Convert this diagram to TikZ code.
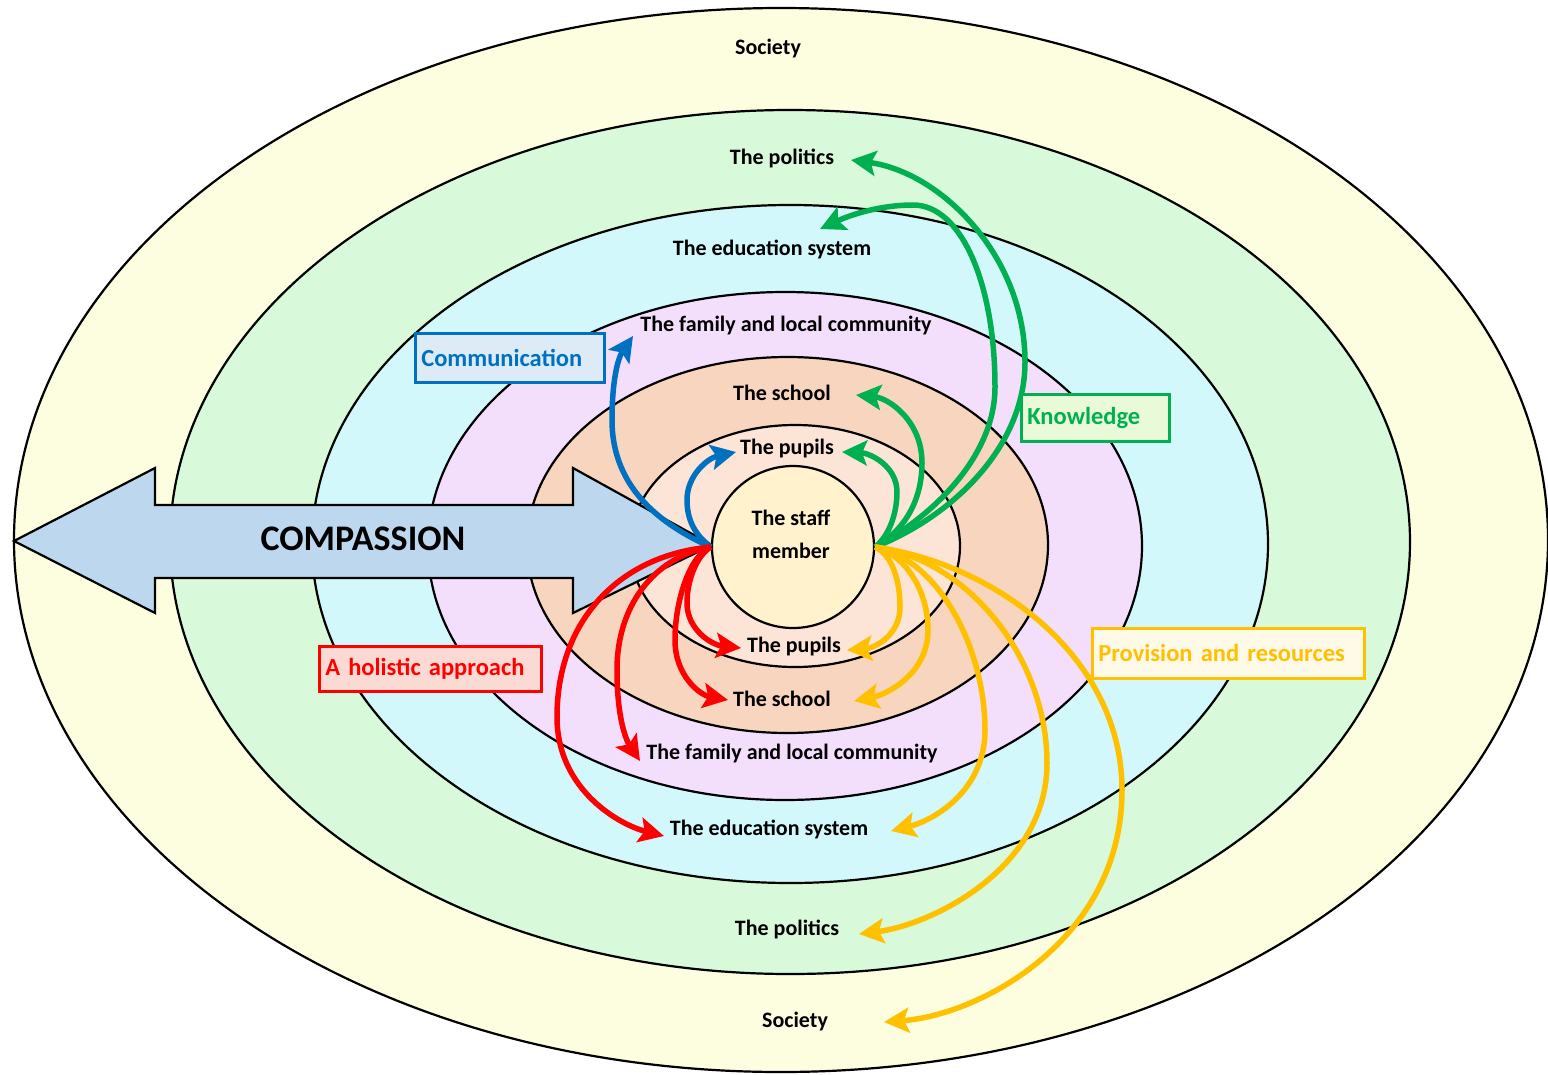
\documentclass[tikz,border=0pt]{standalone}
\usepackage{fontspec}
\setmainfont{Carlito}
\usetikzlibrary{arrows.meta}
\definecolor{cSoc}{HTML}{FDFDE0}
\definecolor{cPol}{HTML}{D8F9DA}
\definecolor{cEdu}{HTML}{D3F8FC}
\definecolor{cFam}{HTML}{F3DFFC}
\definecolor{cSch}{HTML}{F8D5BE}
\definecolor{cPup}{HTML}{FCE4D6}
\definecolor{cStaff}{HTML}{FFF2CC}
\definecolor{cArrow}{HTML}{BDD7EE}
\definecolor{cBlue}{HTML}{0070C0}
\definecolor{cGreen}{HTML}{00B050}
\definecolor{cRed}{HTML}{FF0000}
\definecolor{cYellow}{HTML}{FFC000}
\definecolor{fBlue}{HTML}{DDEBF7}
\definecolor{fGreen}{HTML}{E9FAD8}
\definecolor{fRed}{HTML}{FCDAD4}
\definecolor{fYellow}{HTML}{FFF9E8}
\begin{document}
\begin{tikzpicture}[x=1pt,y=-1pt,
  ring/.style={draw=black,line width=2.2pt},
  lbl/.style={font=\fontsize{22}{22}\selectfont\bfseries, inner sep=0pt, text=black},
  conn/.style={line width=5.5pt, -{Stealth[length=25pt,width=25pt,inset=5pt]}},
  tagbox/.style={draw, line width=2.6pt, font=\fontsize{24.5}{24.5}\selectfont\bfseries,
    anchor=north west, inner xsep=6pt, inner ysep=0pt, align=left}
]
\useasboundingbox (0,0) rectangle (1548,1074);
\fill[white] (0,0) rectangle (1548,1074);
% rings
\draw[ring, fill=cSoc] (781,540) ellipse [x radius=767pt, y radius=532pt];
\draw[ring, fill=cPol] (790,542) ellipse [x radius=620pt, y radius=432pt];
\draw[ring, fill=cEdu] (790,544) ellipse [x radius=478pt, y radius=339pt];
\draw[ring, fill=cFam] (785,546) ellipse [x radius=357pt, y radius=254pt];
\draw[ring, fill=cSch] (787.5,545) ellipse [x radius=260.5pt, y radius=188pt];
\draw[ring, fill=cPup] (795,546) ellipse [x radius=165pt, y radius=121pt];
% compassion arrow
\draw[ring, fill=cArrow, line join=miter] (14,541) -- (155,468) -- (155,505) -- (573,505) -- (573,468)
  -- (712,545) -- (573,613) -- (573,578) -- (155,578) -- (155,613) -- cycle;
\node[font=\fontsize{36}{36}\selectfont\bfseries, inner sep=0pt] (compassion) at (363,539) {COMPASSION};
% staff member
\node[circle, draw, line width=2.2pt, fill=cStaff, minimum size=162pt, inner sep=0pt] (staff) at (793,547) {};
\node[font=\fontsize{22}{33}\selectfont\bfseries, align=center, inner sep=0pt] (stafftxt) at (791,534) {The staff\\member};
% labels
\node[lbl] (societyT) at (768,49) {Society};
\node[lbl] (politicsT) at (782,158) {The politics};
\node[lbl] (eduT) at (772,249) {The education system};
\node[lbl] (familyT) at (786,326) {The family and local community};
\node[lbl] (schoolT) at (782,393) {The school};
\node[lbl] (pupilsT) at (787,449) {The pupils};
\node[lbl] (pupilsB) at (794,647) {The pupils};
\node[lbl] (schoolB) at (782,699) {The school};
\node[lbl] (familyB) at (792,754) {The family and local community};
\node[lbl] (eduB) at (769,829) {The education system};
\node[lbl] (politicsB) at (787,929) {The politics};
\node[lbl] (societyB) at (795,1021) {Society};
% arrow end points
\coordinate (bFam) at (633,336);
\coordinate (bPup) at (736,452);
\coordinate (gPup) at (842,452);
\coordinate (gSch) at (856,395);
\coordinate (gEdu) at (820,229);
\coordinate (gPol) at (851,160);
\coordinate (rPup) at (741,648);
\coordinate (rSch) at (728,700);
\coordinate (rFam) at (640,761);
\coordinate (rEdu) at (664,836);
\coordinate (yPup) at (847,650);
\coordinate (ySch) at (854,701);
\coordinate (yEdu) at (891,831);
\coordinate (yPol) at (859,934);
\coordinate (ySoc) at (884,1022);
% blue
\draw[conn, cBlue] (staff.west) .. controls (650,520) and (612,480) .. (612,420)
  .. controls (612,380) and (618,358) .. (bFam);
\draw[conn, cBlue] (staff.west) .. controls (695,535) and (687,520) .. (687,500)
  .. controls (687,475) and (708,458) .. (bPup);
% green
\draw[conn, cGreen] (staff.east) .. controls (890,535) and (897,512) .. (897,492)
  .. controls (897,466) and (870,453) .. (gPup);
\draw[conn, cGreen] (staff.east) .. controls (905,530) and (922,500) .. (922,463)
  .. controls (922,420) and (888,398) .. (gSch);
\draw[conn, cGreen] (staff.east) .. controls (935,515) and (995,455) .. (995,387)
  .. controls (995,285) and (962,205) .. (913,205)
  .. controls (880,205) and (850,215) .. (gEdu);
\draw[conn, cGreen] (staff.east) .. controls (955,515) and (1025,445) .. (1025,362)
  .. controls (1025,255) and (940,172) .. (gPol);
% red
\draw[conn, cRed] (staff.west) .. controls (697,555) and (687,580) .. (687,603)
  .. controls (687,630) and (712,645) .. (rPup);
\draw[conn, cRed] (staff.west) .. controls (690,555) and (675,600) .. (675,640)
  .. controls (675,676) and (700,695) .. (rSch);
\draw[conn, cRed] (staff.west) .. controls (660,555) and (617,600) .. (617,670)
  .. controls (617,718) and (626,740) .. (rFam);
\draw[conn, cRed] (staff.west) .. controls (620,555) and (557,620) .. (557,717)
  .. controls (557,790) and (620,825) .. (rEdu);
% yellow
\draw[conn, cYellow] (staff.east) .. controls (892,555) and (900,580) .. (900,607)
  .. controls (900,635) and (875,648) .. (yPup);
\draw[conn, cYellow] (staff.east) .. controls (905,555) and (928,590) .. (928,630)
  .. controls (928,675) and (885,695) .. (ySch);
\draw[conn, cYellow] (staff.east) .. controls (940,560) and (985,650) .. (985,730)
  .. controls (985,790) and (935,820) .. (yEdu);
\draw[conn, cYellow] (staff.east) .. controls (970,560) and (1047,660) .. (1047,763)
  .. controls (1047,870) and (930,925) .. (yPol);
\draw[conn, cYellow] (staff.east) .. controls (1000,565) and (1122,660) .. (1122,790)
  .. controls (1122,940) and (980,1015) .. (ySoc);
% boxes
\node[tagbox, draw=cBlue, fill=fBlue, text=cBlue, minimum width=189pt, minimum height=49pt, text width=177pt] (comm) at (414,332) {Communication};
\node[tagbox, draw=cGreen, fill=fGreen, text=cGreen, minimum width=148pt, minimum height=47pt, text width=136pt] (know) at (1020,393) {Knowledge};
\node[tagbox, draw=cRed, fill=fRed, text=cRed, minimum width=222pt, minimum height=45pt, text width=210pt] (holistic) at (318,645) {A holistic approach};
\node[tagbox, draw=cYellow, fill=fYellow, text=cYellow, minimum width=272pt, minimum height=50pt, text width=260pt] (prov) at (1091,627) {Provision and resources};
\end{tikzpicture}
\end{document}
